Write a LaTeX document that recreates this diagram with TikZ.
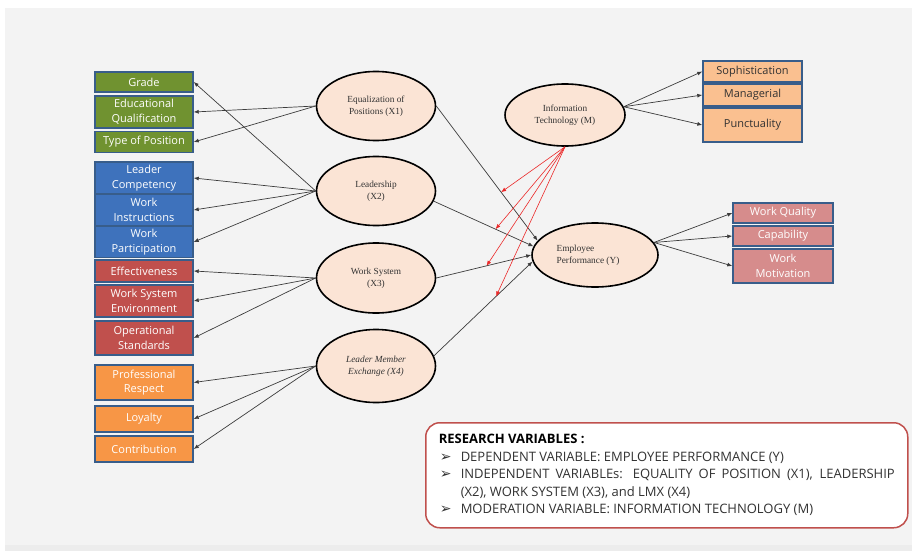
\documentclass[tikz,border=0pt]{standalone}
\usepackage{fontspec}
\setmainfont{Liberation Serif}
\newfontfamily\boxfont{Open Sans}
\newfontfamily\dejavu{DejaVu Sans}
\usetikzlibrary{arrows.meta,calc,shapes.geometric}
\definecolor{bgslide}{RGB}{243,243,243}
\definecolor{boxborder}{RGB}{56,93,138}
\definecolor{cgreen}{RGB}{112,146,48}
\definecolor{cblue}{RGB}{62,114,188}
\definecolor{cred}{RGB}{192,80,77}
\definecolor{corange}{RGB}{247,150,70}
\definecolor{cpeach}{RGB}{250,192,144}
\definecolor{cpink}{RGB}{214,140,140}
\definecolor{ellfill}{RGB}{251,228,213}
\definecolor{txtgray}{RGB}{50,50,50}
\definecolor{linegray}{RGB}{60,60,60}
\definecolor{legred}{RGB}{192,80,77}
\definecolor{redline}{RGB}{235,40,40}
\begin{document}
\begin{tikzpicture}[x=1pt,y=-1pt,
  ind/.style={draw=boxborder, line width=1.4pt, inner sep=1pt, align=center,
    font=\boxfont\fontsize{11}{14.5}\selectfont, text=white},
  leftbox/.style={ind, minimum width=98pt},
  lat/.style={ellipse, draw=black, line width=1.6pt, fill=ellfill, inner sep=0pt,
    font=\fontsize{9.3}{12}\selectfont, text=txtgray, align=center},
  arr/.style={draw=linegray, line width=0.7pt, -{Latex[length=5pt,width=4pt]}},
  redarr/.style={draw=redline, line width=0.6pt, -{Latex[length=5pt,width=4pt]}},
]
\useasboundingbox (0,0) rectangle (912,551);
\fill[white] (0,0) rectangle (912,551);
\fill[bgslide] (5,8) rectangle (912,545);
\fill[gray!15] (5,545) rectangle (912,551);

% left indicator boxes
\node[leftbox, fill=cgreen, minimum height=20pt] (grade) at (144,82) {Grade};
\node[leftbox, fill=cgreen, minimum height=32pt] (edu) at (144,112) {Educational\\Qualification};
\node[leftbox, fill=cgreen, minimum height=21pt] (top) at (144,142) {Type of Position};
\node[leftbox, fill=cblue, minimum height=32pt] (lc) at (144,178) {Leader\\Competency};
\node[leftbox, fill=cblue, minimum height=31pt] (wi) at (144,210) {Work\\Instructions};
\node[leftbox, fill=cblue, minimum height=31pt] (wp) at (144,242) {Work\\Participation};
\node[leftbox, fill=cred, minimum height=22pt] (eff) at (144,271) {Effectiveness};
\node[leftbox, fill=cred, minimum height=32pt] (wse) at (144,301) {Work System\\Environment};
\node[leftbox, fill=cred, minimum height=34pt] (os) at (144,338) {Operational\\Standards};
\node[leftbox, fill=corange, minimum height=35pt] (pr) at (144,382.5) {Professional\\Respect};
\node[leftbox, fill=corange, minimum height=26pt] (loy) at (144,419) {Loyalty};
\node[leftbox, fill=corange, minimum height=26pt] (con) at (144,449) {Contribution};

% right indicator boxes
\node[ind, fill=cpeach, text=txtgray, minimum width=99pt, minimum height=21pt] (soph) at (752.5,71.5) {Sophistication};
\node[ind, fill=cpeach, text=txtgray, minimum width=99pt, minimum height=22pt] (man) at (752.5,95) {Managerial};
\node[ind, fill=cpeach, text=txtgray, minimum width=99pt, minimum height=34pt] (punc) at (752.5,125) {Punctuality};
\node[ind, fill=cpink, minimum width=100pt, minimum height=20pt] (wq) at (783,213) {Work Quality};
\node[ind, fill=cpink, minimum width=100pt, minimum height=20pt] (cap) at (783,236) {Capability};
\node[ind, fill=cpink, minimum width=100pt, minimum height=34pt] (wm) at (783,266) {Work\\Motivation};

% latent variables
\node[lat, minimum width=119pt, minimum height=69pt] (X1) at (376,106) {Equalization of\\Positions (X1)};
\node[lat, minimum width=119pt, minimum height=69pt] (X2) at (376,191) {Leadership\\(X2)};
\node[lat, minimum width=119pt, minimum height=70pt] (X3) at (376,278) {Work System\\(X3)};
\node[lat, minimum width=119pt, minimum height=73pt, font=\itshape\fontsize{9.3}{12}\selectfont] (X4) at (376,366) {Leader Member\\Exchange (X4)};
\node[lat, minimum width=120pt, minimum height=62pt] (M) at (565,115) {Information\\Technology (M)};
\node[lat, minimum width=126pt, minimum height=64pt, align=left] (Y) at (595,255) {Employee\hspace*{14pt}\\Performance (Y)\hspace*{14pt}};

% measurement arrows (left)
\draw[arr] (X1.west) -- (edu.east);
\draw[arr] (X1.west) -- (top.east);
\draw[arr] (X2.west) -- (grade.east);
\draw[arr] (X2.west) -- (lc.east);
\draw[arr] (X2.west) -- (wi.east);
\draw[arr] (X2.west) -- (wp.east);
\draw[arr] (X3.west) -- (eff.east);
\draw[arr] (X3.west) -- (wse.east);
\draw[arr] (X3.west) -- (os.east);
\draw[arr] (X4.west) -- (pr.east);
\draw[arr] (X4.west) -- (loy.east);
\draw[arr] (X4.west) -- (con.east);

% measurement arrows (right)
\draw[arr] (M.8) -- (soph.west);
\draw[arr] (M.8) -- (man.west);
\draw[arr] (M.8) -- (punc.west);
\draw[arr] (Y.12) -- (wq.west);
\draw[arr] (Y.12) -- (cap.west);
\draw[arr] (Y.12) -- (wm.west);

% structural paths
\draw[arr] (X1.east) -- (Y.166);
\draw[arr] (X2.-10) -- (Y.172);
\draw[arr] (X3.east) -- (Y.180);
\draw[arr] (X4.10) -- (Y.186);

% moderation
\coordinate (m1) at ($(X1.east)!0.64!(Y.166)$);
\coordinate (m2) at ($(X2.-10)!0.62!(Y.172)$);
\coordinate (m3) at ($(X3.east)!0.53!(Y.180)$);
\coordinate (m4) at ($(X4.10)!0.63!(Y.186)$);
\draw[redarr] (M.south) -- (m1);
\draw[redarr] (M.south) -- (m2);
\draw[redarr] (M.south) -- (m3);
\draw[redarr] (M.south) -- (m4);

% legend
\newcommand\legbullet{\makebox[22pt][l]{\hspace{1pt}\dejavu\fontsize{14}{14}\selectfont ➢}}
\node[draw=legred, line width=1.5pt, rounded corners=14pt, fill=white,
  anchor=north west, text width=456pt, inner xsep=13pt, inner ysep=0pt,
  minimum height=105pt, align=justify, text=txtgray,
  font=\boxfont\fontsize{13}{17.5}\selectfont] (legend) at (425,422) {%
  \parindent=0pt
  {\bfseries\color{black}RESEARCH VARIABLES :}\par
  \hangindent=22pt\legbullet DEPENDENT VARIABLE: EMPLOYEE PERFORMANCE (Y)\par
  \hangindent=22pt\legbullet INDEPENDENT VARIABLEs: EQUALITY OF POSITION (X1), LEADERSHIP\linebreak (X2), WORK SYSTEM (X3), and LMX (X4)\par
  \hangindent=22pt\legbullet MODERATION VARIABLE: INFORMATION TECHNOLOGY (M)\par};
\end{tikzpicture}
\end{document}
